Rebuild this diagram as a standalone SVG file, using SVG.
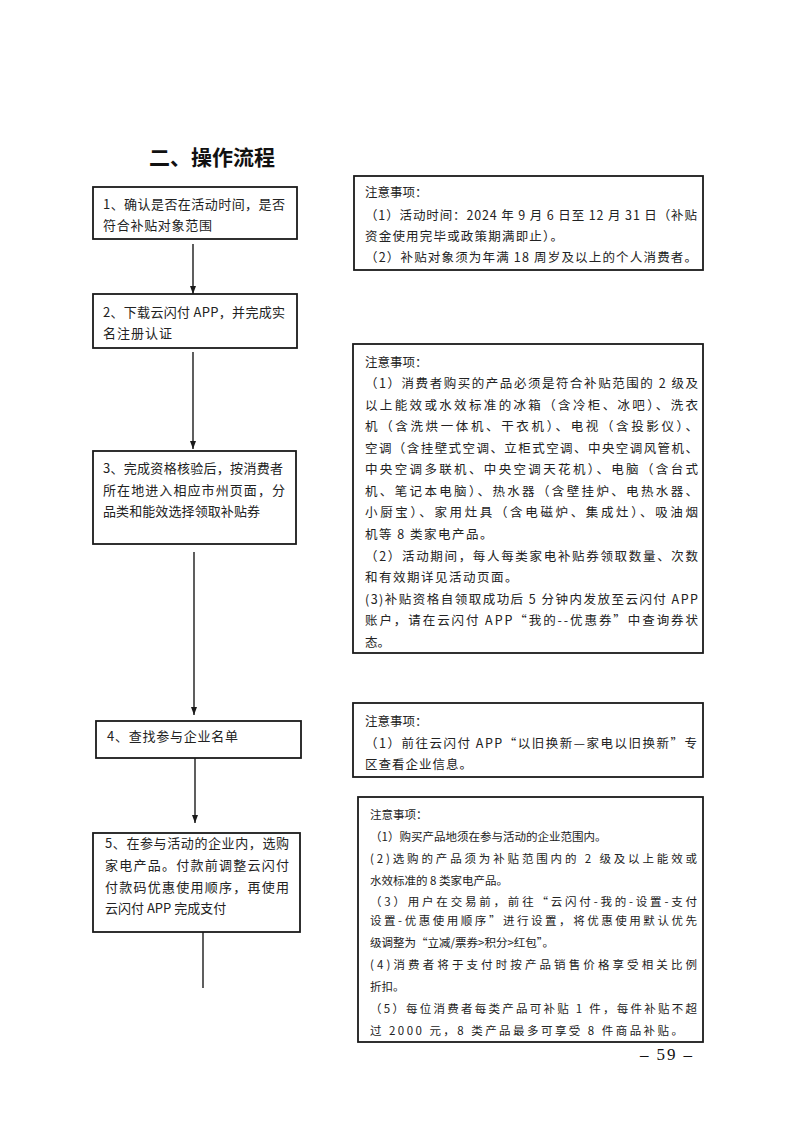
<svg xmlns="http://www.w3.org/2000/svg" width="793" height="1122" viewBox="0 0 793 1122">
<style>
.bg{fill:#fff}
.box{fill:#fff;stroke:#1a1a1a;stroke-width:1.8}
.t{font-family:"Noto Sans CJK SC","Noto Sans",sans-serif;font-size:12.5px;fill:#222}
.b{font-family:"Noto Sans CJK SC","Noto Sans",sans-serif;font-size:13px;fill:#222}
.s{font-family:"Noto Sans CJK SC","Noto Sans",sans-serif;font-size:11.5px;fill:#222}
.title{font-family:"Noto Sans CJK SC","Noto Sans",sans-serif;font-size:21px;font-weight:700;fill:#111}
.pg{font-family:"Liberation Serif",serif;font-size:17px;fill:#111}
.conn{stroke:#1a1a1a;stroke-width:1.4;fill:none}
</style>
<defs>
<marker id="ah" viewBox="0 0 8 6" refX="8" refY="3" markerWidth="8" markerHeight="6" markerUnits="userSpaceOnUse" orient="auto">
<path d="M0,0 L8,3 L0,6 z" fill="#1a1a1a"/>
</marker>
</defs>
<rect class="bg" x="0" y="0" width="793" height="1122"/>

<text class="title" x="149" y="165">二、操作流程</text>

<g id="connectors">
<line class="conn" x1="193" y1="244" x2="193" y2="294" marker-end="url(#ah)"/>
<line class="conn" x1="193" y1="352" x2="193" y2="449" marker-end="url(#ah)"/>
<line class="conn" x1="194" y1="552" x2="194" y2="715" marker-end="url(#ah)"/>
<line class="conn" x1="195" y1="758" x2="195" y2="823" marker-end="url(#ah)"/>
<line class="conn" x1="203" y1="932" x2="203" y2="988"/>
</g>

<g id="step1">
<rect class="box" x="93" y="187" width="204" height="52"/>
<text class="b" x="103" y="209" textLength="182" lengthAdjust="spacing">1、确认是否在活动时间，是否</text>
<text class="b" x="103" y="230" textLength="109" lengthAdjust="spacing">符合补贴对象范围</text>
</g>

<g id="step2">
<rect class="box" x="93" y="294" width="204" height="54"/>
<text class="b" x="103" y="317" textLength="182" lengthAdjust="spacing">2、下载云闪付 APP，并完成实</text>
<text class="b" x="103" y="338" textLength="69" lengthAdjust="spacing">名注册认证</text>
</g>

<g id="step3">
<rect class="box" x="93" y="451" width="203" height="93"/>
<text class="b" x="103" y="473" textLength="180" lengthAdjust="spacing">3、完成资格核验后，按消费者</text>
<text class="b" x="103" y="495" textLength="182" lengthAdjust="spacing">所在地进入相应市州页面，分</text>
<text class="b" x="103" y="516" textLength="157" lengthAdjust="spacing">品类和能效选择领取补贴券</text>
</g>

<g id="step4">
<rect class="box" x="96" y="721" width="205" height="37"/>
<text class="b" x="107" y="741" textLength="131" lengthAdjust="spacing">4、查找参与企业名单</text>
</g>

<g id="step5">
<rect class="box" x="93" y="833" width="207" height="99"/>
<text class="b" x="105" y="848" textLength="184" lengthAdjust="spacing">5、在参与活动的企业内，选购</text>
<text class="b" x="105" y="870" textLength="184" lengthAdjust="spacing">家电产品。付款前调整云闪付</text>
<text class="b" x="105" y="892" textLength="184" lengthAdjust="spacing">付款码优惠使用顺序，再使用</text>
<text class="b" x="105" y="913">云闪付 APP 完成支付</text>
</g>

<g id="note1">
<rect class="box" x="354" y="176" width="349" height="94"/>
<text class="t" x="365" y="197">注意事项：</text>
<text class="t" x="365" y="220" textLength="332" lengthAdjust="spacing">（1）活动时间：2024 年 9 月 6 日至 12 月 31 日（补贴</text>
<text class="t" x="365" y="241" textLength="198" lengthAdjust="spacing">资金使用完毕或政策期满即止）。</text>
<text class="t" x="365" y="262" textLength="332" lengthAdjust="spacing">（2）补贴对象须为年满 18 周岁及以上的个人消费者。</text>
</g>

<g id="note2">
<rect class="box" x="353" y="344" width="350" height="309"/>
<text class="t" x="365" y="366.5">注意事项：</text>
<text class="t" x="365" y="388" textLength="333" lengthAdjust="spacing">（1）消费者购买的产品必须是符合补贴范围的 2 级及</text>
<text class="t" x="365" y="409.5" textLength="333" lengthAdjust="spacing">以上能效或水效标准的冰箱（含冷柜、冰吧）、洗衣</text>
<text class="t" x="365" y="431" textLength="333" lengthAdjust="spacing">机（含洗烘一体机、干衣机）、电视（含投影仪）、</text>
<text class="t" x="365" y="452.5" textLength="333" lengthAdjust="spacing">空调（含挂壁式空调、立柜式空调、中央空调风管机、</text>
<text class="t" x="365" y="474" textLength="333" lengthAdjust="spacing">中央空调多联机、中央空调天花机）、电脑（含台式</text>
<text class="t" x="365" y="495.5" textLength="333" lengthAdjust="spacing">机、笔记本电脑）、热水器（含壁挂炉、电热水器、</text>
<text class="t" x="365" y="517" textLength="333" lengthAdjust="spacing">小厨宝）、家用灶具（含电磁炉、集成灶）、吸油烟</text>
<text class="t" x="365" y="539" letter-spacing="1.5">机等 8 类家电产品。</text>
<text class="t" x="365" y="560.5" textLength="333" lengthAdjust="spacing">（2）活动期间，每人每类家电补贴券领取数量、次数</text>
<text class="t" x="365" y="582" letter-spacing="1.5">和有效期详见活动页面。</text>
<text class="t" x="365" y="603.5" textLength="333" lengthAdjust="spacing">(3)补贴资格自领取成功后 5 分钟内发放至云闪付 APP</text>
<text class="t" x="365" y="625" textLength="333" lengthAdjust="spacing">账户，请在云闪付 APP“我的--优惠券”中查询券状</text>
<text class="t" x="365" y="647">态。</text>
</g>

<g id="note4">
<rect class="box" x="353" y="703" width="350" height="74"/>
<text class="t" x="365" y="726">注意事项：</text>
<text class="t" x="365" y="748" textLength="332" lengthAdjust="spacing">（1）前往云闪付 APP“以旧换新—家电以旧换新”专</text>
<text class="t" x="365" y="769" letter-spacing="1">区查看企业信息。</text>
</g>

<g id="note5">
<rect class="box" x="358" y="797" width="345" height="245"/>
<text class="s" x="370" y="819">注意事项：</text>
<text class="s" x="370" y="841">（1）购买产品地须在参与活动的企业范围内。</text>
<text class="s" x="370" y="863" textLength="327" lengthAdjust="spacing">(2)选购的产品须为补贴范围内的 2 级及以上能效或</text>
<text class="s" x="370" y="885">水效标准的 8 类家电产品。</text>
<text class="s" x="370" y="906" textLength="327" lengthAdjust="spacing">（3）用户在交易前，前往“云闪付-我的-设置-支付</text>
<text class="s" x="370" y="925" textLength="327" lengthAdjust="spacing">设置-优惠使用顺序”进行设置，将优惠使用默认优先</text>
<text class="s" x="370" y="947">级调整为“立减/票券&gt;积分&gt;红包”。</text>
<text class="s" x="370" y="969" textLength="327" lengthAdjust="spacing">(4)消费者将于支付时按产品销售价格享受相关比例</text>
<text class="s" x="370" y="991">折扣。</text>
<text class="s" x="370" y="1013" textLength="327" lengthAdjust="spacing">（5）每位消费者每类产品可补贴 1 件，每件补贴不超</text>
<text class="s" x="370" y="1035" textLength="313" lengthAdjust="spacing">过 2000 元，8 类产品最多可享受 8 件商品补贴。</text>
</g>

<text class="pg" x="640" y="1060" textLength="52" lengthAdjust="spacing">– 59 –</text>
</svg>
